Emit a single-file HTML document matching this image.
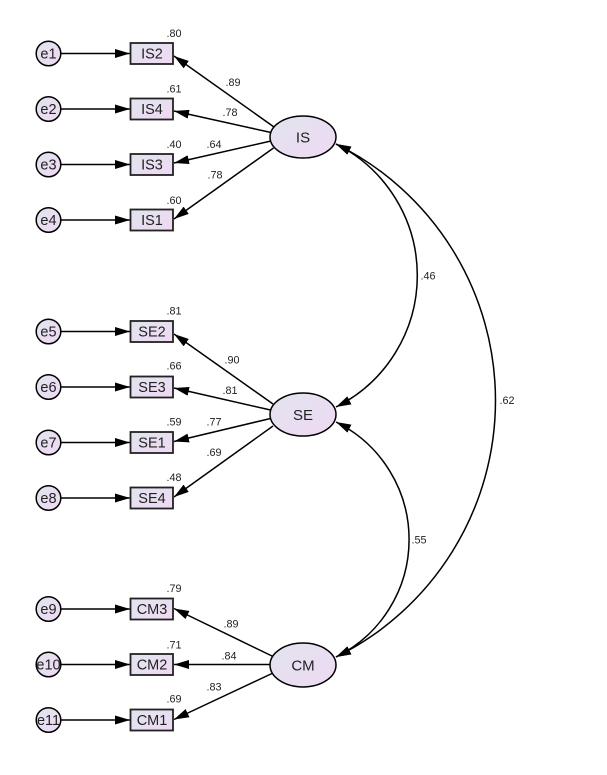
<!DOCTYPE html>
<html><head><meta charset="utf-8"><style>
html,body{margin:0;padding:0;background:#fff;}
svg{display:block;}
text{font-family:"Liberation Sans",Arial,sans-serif;fill:#222;}
.n{font-size:10.8px;fill:#444;}
.lb{font-size:14.5px;}
.el{font-size:15px;}
</style></head><body>
<svg width="607" height="775" viewBox="0 0 607 775" xmlns="http://www.w3.org/2000/svg">
<defs>
<linearGradient id="g" x1="0" y1="0" x2="1" y2="1">
<stop offset="0" stop-color="#e1e4ee"/><stop offset="1" stop-color="#efd9f3"/>
</linearGradient>
<marker id="a" viewBox="0 0 15 9" refX="15" refY="4.5" markerWidth="15" markerHeight="9" markerUnits="userSpaceOnUse" orient="auto-start-reverse"><path d="M0,0 L15,4.5 L0,9z" fill="#000"/></marker>
</defs>
<g stroke="#000" stroke-width="1.5" fill="none">
<line x1="61" y1="53.5" x2="130" y2="53.5" marker-end="url(#a)"/>
<line x1="61" y1="109" x2="130" y2="109" marker-end="url(#a)"/>
<line x1="61" y1="164.5" x2="130" y2="164.5" marker-end="url(#a)"/>
<line x1="61" y1="220" x2="130" y2="220" marker-end="url(#a)"/>
<line x1="61" y1="331.5" x2="130" y2="331.5" marker-end="url(#a)"/>
<line x1="61" y1="387" x2="130" y2="387" marker-end="url(#a)"/>
<line x1="61" y1="442.5" x2="130" y2="442.5" marker-end="url(#a)"/>
<line x1="61" y1="498" x2="130" y2="498" marker-end="url(#a)"/>
<line x1="61" y1="609" x2="130" y2="609" marker-end="url(#a)"/>
<line x1="61" y1="664.5" x2="130" y2="664.5" marker-end="url(#a)"/>
<line x1="61" y1="720" x2="130" y2="720" marker-end="url(#a)"/>
<line x1="274" y1="127" x2="174" y2="56" marker-end="url(#a)"/>
<line x1="271" y1="132.5" x2="174" y2="111" marker-end="url(#a)"/>
<line x1="271" y1="141" x2="174" y2="163" marker-end="url(#a)"/>
<line x1="273.5" y1="148" x2="174" y2="219" marker-end="url(#a)"/>
<line x1="273" y1="404" x2="174" y2="334" marker-end="url(#a)"/>
<line x1="270.5" y1="410" x2="174" y2="388" marker-end="url(#a)"/>
<line x1="270.5" y1="418.5" x2="174" y2="441.5" marker-end="url(#a)"/>
<line x1="273" y1="426" x2="174" y2="497" marker-end="url(#a)"/>
<line x1="273" y1="656.5" x2="174" y2="608.5" marker-end="url(#a)"/>
<line x1="270" y1="664.5" x2="174" y2="664.5" marker-end="url(#a)"/>
<line x1="273" y1="673" x2="174" y2="719.5" marker-end="url(#a)"/>
<path d="M336,144 A147,147 0 0 1 336,407" marker-start="url(#a)" marker-end="url(#a)"/>
<path d="M336,144 A286,286 0 0 1 336,657" marker-start="url(#a)" marker-end="url(#a)"/>
<path d="M336,422 A131,131 0 0 1 336,657" marker-start="url(#a)" marker-end="url(#a)"/>
</g>
<g fill="url(#g)" stroke="#000" stroke-width="1.5">
<circle cx="48.5" cy="53.5" r="12.3"/>
<circle cx="48.5" cy="109" r="12.3"/>
<circle cx="48.5" cy="164.5" r="12.3"/>
<circle cx="48.5" cy="220" r="12.3"/>
<circle cx="48.5" cy="331.5" r="12.3"/>
<circle cx="48.5" cy="387" r="12.3"/>
<circle cx="48.5" cy="442.5" r="12.3"/>
<circle cx="48.5" cy="498" r="12.3"/>
<circle cx="48.5" cy="609" r="12.3"/>
<circle cx="48.5" cy="664.5" r="12.3"/>
<circle cx="48.5" cy="720" r="12.3"/>
</g>
<g fill="url(#g)" stroke="#222" stroke-width="1.8">
<rect x="130.5" y="43" width="42.5" height="21"/>
<rect x="130.5" y="98.5" width="42.5" height="21"/>
<rect x="130.5" y="154" width="42.5" height="21"/>
<rect x="130.5" y="209.5" width="42.5" height="21"/>
<rect x="130.5" y="321" width="42.5" height="21"/>
<rect x="130.5" y="376.5" width="42.5" height="21"/>
<rect x="130.5" y="432" width="42.5" height="21"/>
<rect x="130.5" y="487.5" width="42.5" height="21"/>
<rect x="130.5" y="598.5" width="42.5" height="21"/>
<rect x="130.5" y="654" width="42.5" height="21"/>
<rect x="130.5" y="709.5" width="42.5" height="21"/>
</g>
<g fill="url(#g)" stroke="#000" stroke-width="1.5">
<ellipse cx="303" cy="137" rx="33" ry="21"/>
<ellipse cx="303" cy="414.5" rx="33" ry="21.5"/>
<ellipse cx="303" cy="665" rx="33" ry="22"/>
</g>
<g class="lb" text-anchor="middle">
<text x="48.5" y="58.5">e1</text><text x="48.5" y="114">e2</text><text x="48.5" y="169.5">e3</text><text x="48.5" y="225">e4</text>
<text x="48.5" y="336.5">e5</text><text x="48.5" y="392">e6</text><text x="48.5" y="447.5">e7</text><text x="48.5" y="503">e8</text>
<text x="48.5" y="614">e9</text><text x="48.5" y="669.5">e10</text><text x="48.5" y="725">e11</text>
<text x="152" y="58.5">IS2</text><text x="152" y="114">IS4</text><text x="152" y="169.5">IS3</text><text x="152" y="225">IS1</text>
<text x="152" y="336.5">SE2</text><text x="152" y="392">SE3</text><text x="152" y="447.5">SE1</text><text x="152" y="503">SE4</text>
<text x="152" y="614">CM3</text><text x="152" y="669.5">CM2</text><text x="152" y="725">CM1</text>
</g>
<g class="el" text-anchor="middle">
<text x="303" y="142.5">IS</text>
<text x="303" y="420">SE</text>
<text x="303" y="670.5">CM</text>
</g>
<g class="n" text-anchor="middle">
<text x="174" y="37">.80</text><text x="174" y="92.5">.61</text><text x="174" y="148">.40</text><text x="174" y="204">.60</text>
<text x="174" y="314.5">.81</text><text x="174" y="369.5">.66</text><text x="174" y="425.5">.59</text><text x="174" y="481">.48</text>
<text x="174" y="592">.79</text><text x="174" y="648.5">.71</text><text x="174" y="702.5">.69</text>
<text x="233" y="86">.89</text><text x="230" y="116">.78</text><text x="214" y="148">.64</text><text x="215" y="178.5">.78</text>
<text x="232" y="363.5">.90</text><text x="230" y="394">.81</text><text x="214" y="425.5">.77</text><text x="214" y="456">.69</text>
<text x="231" y="627.5">.89</text><text x="229" y="659.5">.84</text><text x="214" y="690.5">.83</text>
<text x="428" y="279.5">.46</text>
<text x="507" y="404">.62</text>
<text x="419" y="543.5">.55</text>
</g>
</svg>
</body></html>
